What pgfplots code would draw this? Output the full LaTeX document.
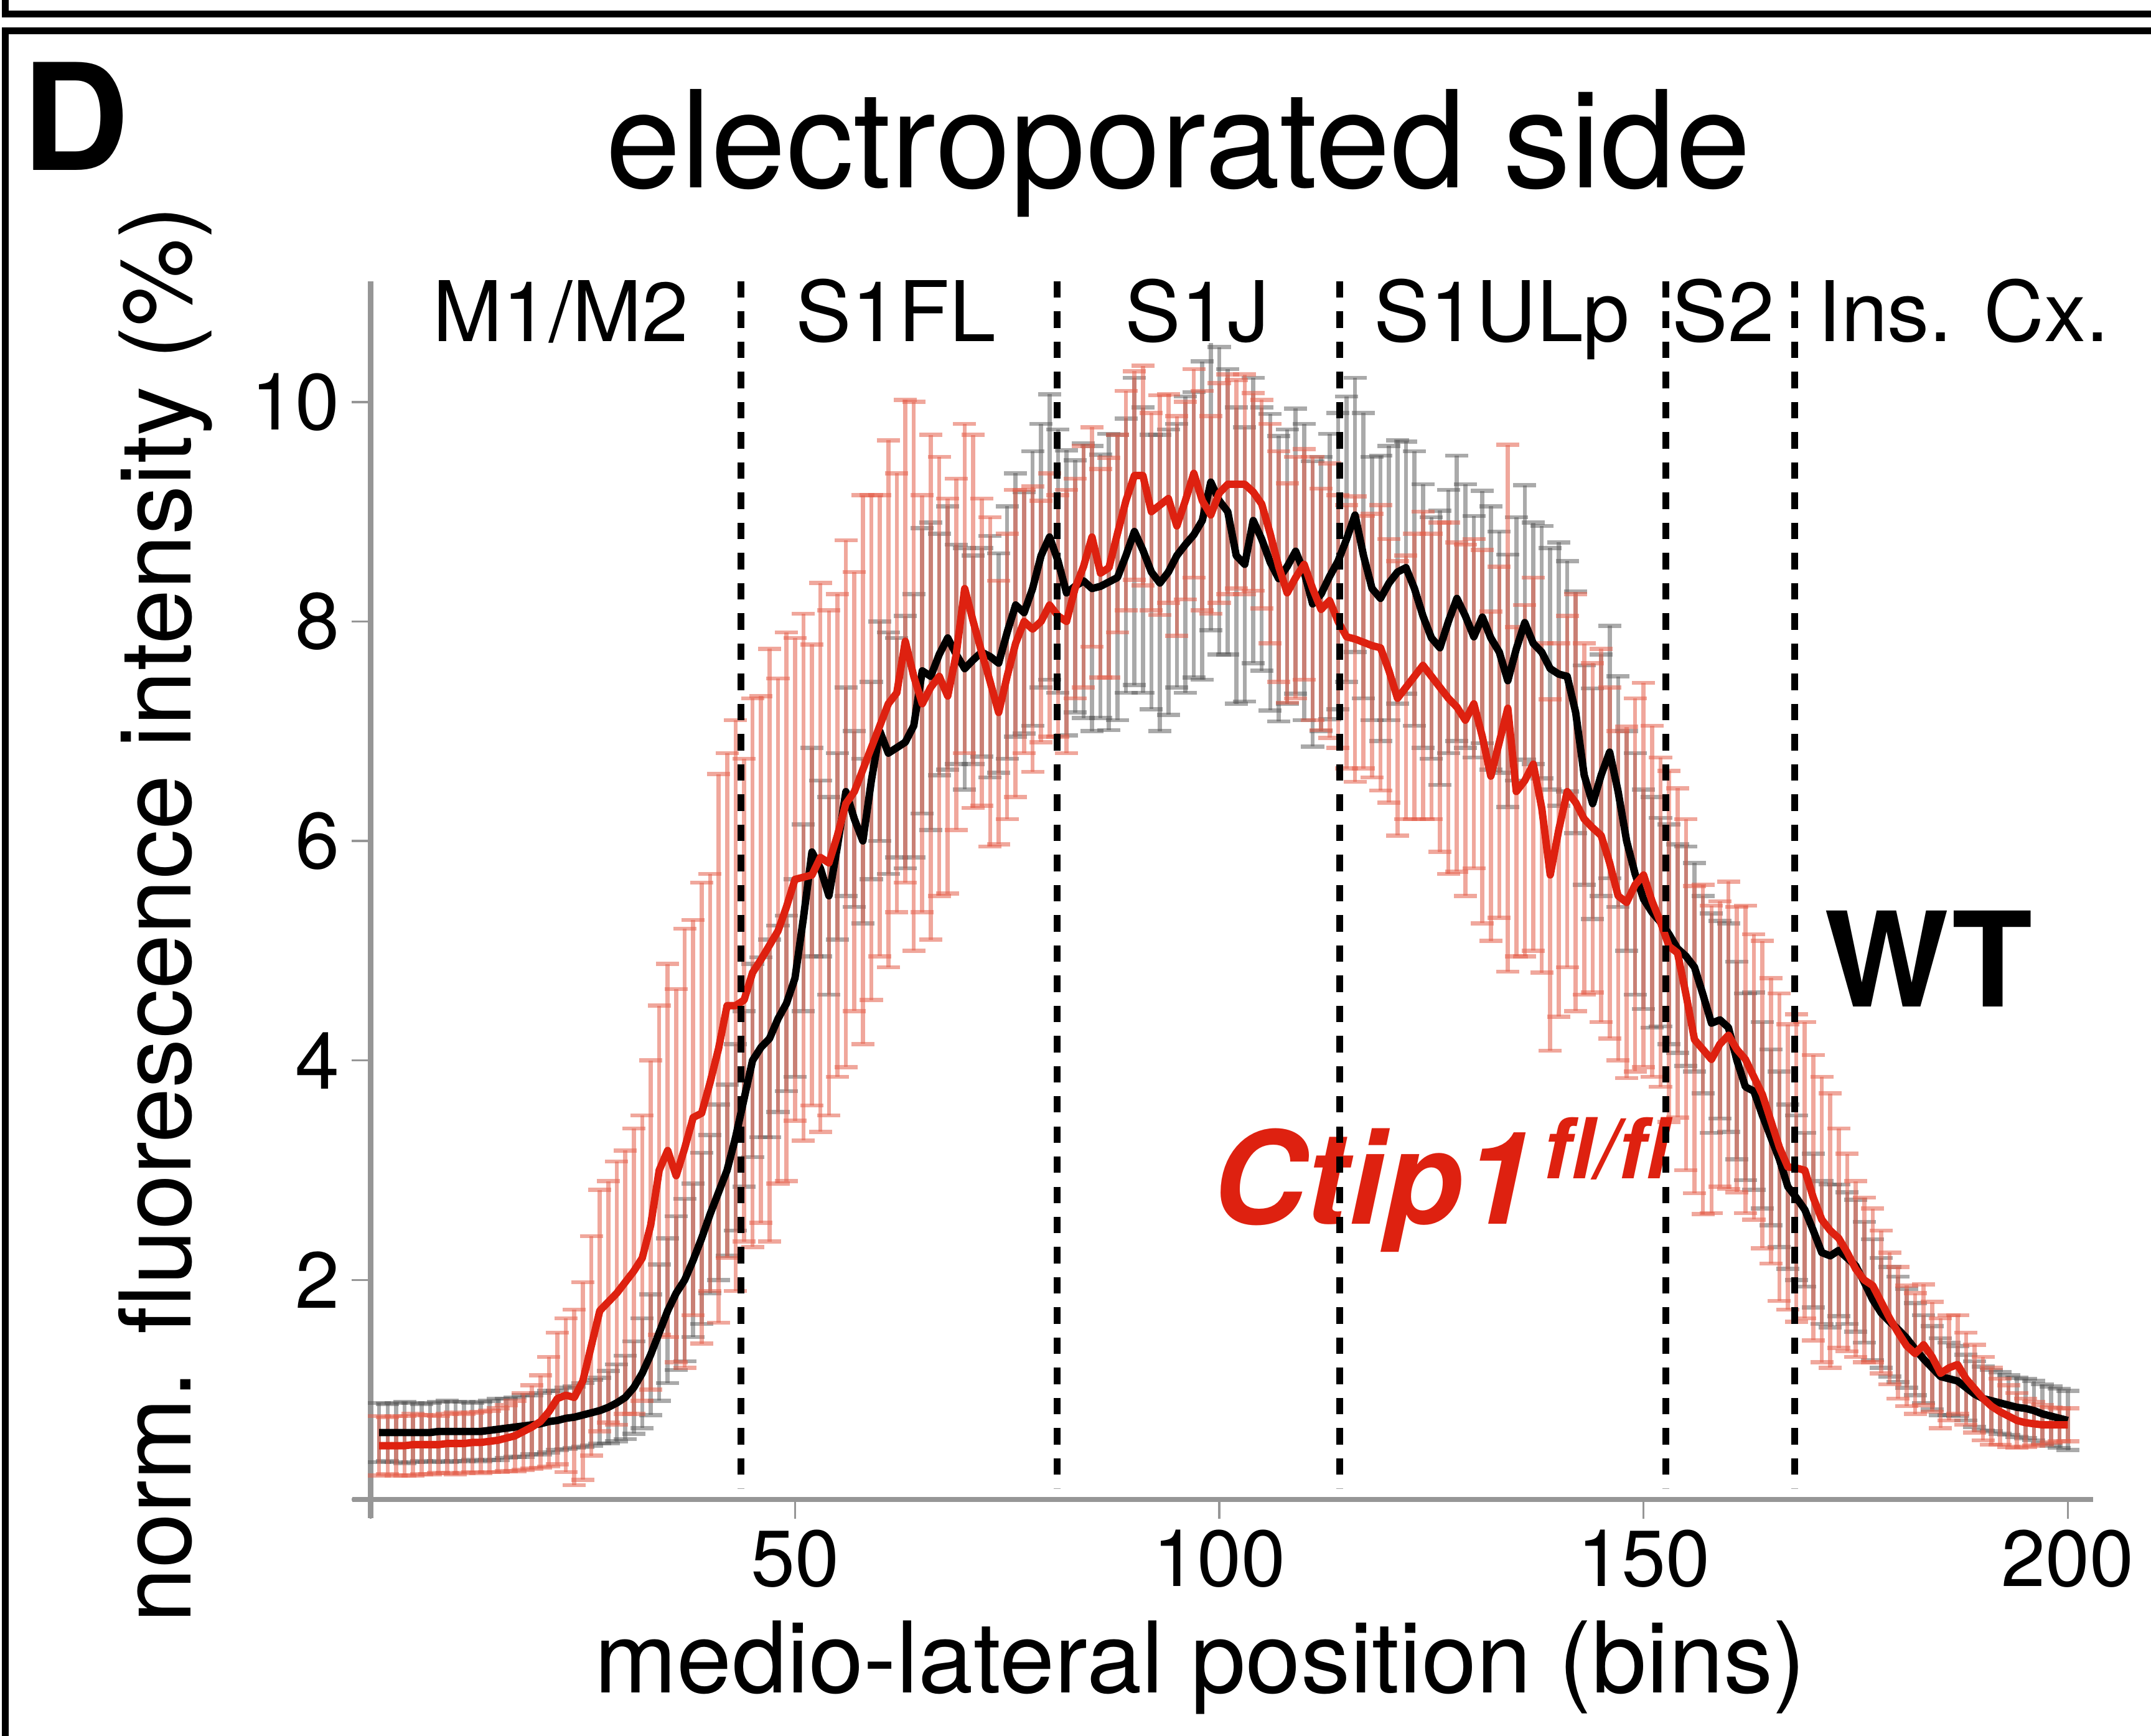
\documentclass[border=0pt]{standalone}
\usepackage{pgfplots}
\pgfplotsset{compat=1.18}
\usepackage{pgfplotstable}
\usepackage{fontspec}
\setmainfont{TeX Gyre Heros}
\definecolor{ctred}{RGB}{222,33,16}
\definecolor{errred}{RGB}{228,95,75}
\definecolor{errgray}{RGB}{85,85,85}
\definecolor{axgray}{RGB}{150,150,150}

\pgfplotstableread[row sep=\\]{
x y e\\
1 0.61 0.27\\ 2 0.61 0.26\\ 3 0.61 0.27\\ 4 0.61 0.28\\ 5 0.61 0.27\\ 6 0.61 0.26\\ 7 0.61 0.27\\ 8 0.62 0.27\\ 9 0.62 0.28\\ 10 0.62 0.27\\
11 0.62 0.27\\ 12 0.62 0.26\\ 13 0.62 0.27\\ 14 0.63 0.27\\ 15 0.64 0.28\\ 16 0.65 0.27\\ 17 0.66 0.27\\ 18 0.67 0.28\\ 19 0.68 0.27\\ 20 0.69 0.28\\
21 0.71 0.28\\ 22 0.72 0.27\\ 23 0.74 0.28\\ 24 0.75 0.28\\ 25 0.77 0.29\\ 26 0.79 0.30\\ 27 0.81 0.30\\ 28 0.84 0.33\\ 29 0.88 0.35\\ 30 0.93 0.38\\
31 1.02 0.42\\ 32 1.15 0.50\\ 33 1.32 0.55\\ 34 1.52 0.62\\ 35 1.72 0.66\\ 36 1.88 0.70\\ 37 2.00 0.74\\ 38 2.18 0.70\\ 39 2.38 0.78\\ 40 2.60 0.72\\
41 2.80 0.80\\ 42 3.00 0.78\\ 43 3.30 0.85\\ 44 3.65 0.80\\ 45 4.00 0.88\\ 46 4.12 0.82\\ 47 4.20 0.90\\ 48 4.38 0.85\\ 49 4.52 0.80\\ 50 4.75 0.90\\
51 5.30 0.85\\ 52 5.90 0.95\\ 53 5.75 0.80\\ 54 5.50 0.90\\ 55 5.95 0.85\\ 56 6.45 0.95\\ 57 6.20 0.80\\ 58 6.00 0.75\\ 59 6.55 0.90\\ 60 7.00 1.00\\
61 6.80 1.10\\ 62 6.85 1.00\\ 63 6.90 1.15\\ 64 7.05 1.20\\ 65 7.55 1.30\\ 66 7.50 1.40\\ 67 7.70 1.10\\ 68 7.85 1.20\\ 69 7.70 1.00\\ 70 7.57 1.10\\
71 7.65 0.95\\ 72 7.72 0.95\\ 73 7.68 1.10\\ 74 7.62 1.00\\ 75 7.90 1.15\\ 76 8.15 1.20\\ 77 8.08 1.10\\ 78 8.30 1.25\\ 79 8.60 1.20\\ 80 8.77 1.30\\
81 8.55 1.20\\ 82 8.26 1.30\\ 83 8.32 1.15\\ 84 8.37 1.25\\ 85 8.30 1.30\\ 86 8.32 1.20\\ 87 8.36 1.35\\ 88 8.40 1.30\\ 89 8.60 1.25\\ 90 8.82 1.40\\
91 8.65 1.30\\ 92 8.45 1.25\\ 93 8.35 1.35\\ 94 8.45 1.30\\ 95 8.60 1.20\\ 96 8.70 1.35\\ 97 8.79 1.30\\ 98 8.92 1.45\\ 99 9.27 1.35\\ 100 9.10 1.40\\
101 9.00 1.30\\ 102 8.60 1.35\\ 103 8.52 1.25\\ 104 8.92 1.30\\ 105 8.75 1.20\\ 106 8.54 1.35\\ 107 8.39 1.30\\ 108 8.50 1.25\\ 109 8.64 1.30\\ 110 8.45 1.35\\
111 8.16 1.30\\ 112 8.25 1.25\\ 113 8.41 1.30\\ 114 8.55 1.35\\ 115 8.75 1.30\\ 116 8.97 1.25\\ 117 8.60 1.30\\ 118 8.30 1.20\\ 119 8.21 1.30\\ 120 8.35 1.25\\
121 8.45 1.20\\ 122 8.49 1.15\\ 123 8.30 1.25\\ 124 8.05 1.20\\ 125 7.85 1.10\\ 126 7.76 1.25\\ 127 8.00 1.20\\ 128 8.21 1.30\\ 129 8.05 1.20\\ 130 7.86 1.10\\
131 8.04 1.15\\ 132 7.85 1.20\\ 133 7.72 1.10\\ 134 7.46 1.15\\ 135 7.75 1.20\\ 136 7.99 1.25\\ 137 7.80 1.10\\ 138 7.72 1.15\\ 139 7.57 1.10\\ 140 7.52 1.20\\
141 7.50 1.05\\ 142 7.17 1.10\\ 143 6.60 1.00\\ 144 6.34 1.05\\ 145 6.60 1.10\\ 146 6.81 1.15\\ 147 6.45 1.05\\ 148 6.00 1.00\\ 149 5.70 1.10\\ 150 5.47 1.00\\
151 5.35 1.05\\ 152 5.26 0.95\\ 153 5.15 1.00\\ 154 5.02 0.95\\ 155 4.95 1.00\\ 156 4.85 0.95\\ 157 4.60 0.90\\ 158 4.34 1.00\\ 159 4.37 0.90\\ 160 4.30 0.95\\
161 4.00 0.90\\ 162 3.76 0.85\\ 163 3.72 0.90\\ 164 3.50 0.85\\ 165 3.30 0.80\\ 166 3.10 0.80\\ 167 2.85 0.75\\ 168 2.75 0.75\\ 169 2.64 0.70\\ 170 2.45 0.70\\
171 2.25 0.65\\ 172 2.22 0.65\\ 173 2.27 0.60\\ 174 2.20 0.60\\ 175 2.13 0.60\\ 176 1.98 0.55\\ 177 1.82 0.55\\ 178 1.70 0.50\\ 179 1.62 0.50\\ 180 1.55 0.48\\
181 1.47 0.45\\ 182 1.37 0.42\\ 183 1.28 0.40\\ 184 1.20 0.38\\ 185 1.12 0.35\\ 186 1.10 0.33\\ 187 1.08 0.32\\ 188 1.02 0.30\\ 189 0.96 0.30\\ 190 0.92 0.29\\
191 0.90 0.28\\ 192 0.88 0.28\\ 193 0.86 0.27\\ 194 0.84 0.27\\ 195 0.83 0.27\\ 196 0.81 0.27\\ 197 0.78 0.27\\ 198 0.76 0.27\\ 199 0.74 0.27\\ 200 0.72 0.27\\
}\wt

\pgfplotstableread[row sep=\\]{
x y e\\
1 0.49 0.27\\ 2 0.49 0.26\\ 3 0.49 0.27\\ 4 0.49 0.27\\ 5 0.50 0.28\\ 6 0.50 0.27\\ 7 0.50 0.27\\ 8 0.50 0.26\\ 9 0.51 0.27\\ 10 0.51 0.28\\
11 0.51 0.27\\ 12 0.52 0.27\\ 13 0.52 0.28\\ 14 0.53 0.28\\ 15 0.54 0.29\\ 16 0.56 0.30\\ 17 0.58 0.32\\ 18 0.62 0.35\\ 19 0.66 0.38\\ 20 0.71 0.42\\
21 0.80 0.50\\ 22 0.92 0.60\\ 23 0.95 0.70\\ 24 0.93 0.80\\ 25 1.08 0.90\\ 26 1.40 1.00\\ 27 1.72 1.10\\ 28 1.80 1.10\\ 29 1.88 1.20\\ 30 1.98 1.20\\
31 2.08 1.30\\ 32 2.20 1.30\\ 33 2.50 1.50\\ 34 3.00 1.50\\ 35 3.18 1.70\\ 36 2.95 1.70\\ 37 3.20 2.00\\ 38 3.48 1.80\\ 39 3.52 2.10\\ 40 3.80 1.90\\
41 4.11 2.50\\ 42 4.50 2.30\\ 43 4.50 2.60\\ 44 4.55 2.20\\ 45 4.80 2.50\\ 46 4.92 2.40\\ 47 5.05 2.70\\ 48 5.18 2.30\\ 49 5.40 2.50\\ 50 5.65 2.20\\
51 5.67 2.40\\ 52 5.69 2.10\\ 53 5.85 2.50\\ 54 5.80 2.30\\ 55 6.05 2.20\\ 56 6.34 2.40\\ 57 6.45 2.00\\ 58 6.65 2.50\\ 59 6.85 2.30\\ 60 7.05 2.10\\
61 7.25 2.40\\ 62 7.35 2.00\\ 63 7.82 2.20\\ 64 7.50 2.50\\ 65 7.25 1.90\\ 66 7.40 2.30\\ 67 7.50 2.00\\ 68 7.32 1.80\\ 69 7.70 1.60\\ 70 8.30 1.50\\
71 8.00 1.70\\ 72 7.72 1.40\\ 73 7.45 1.50\\ 74 7.17 1.20\\ 75 7.50 1.30\\ 76 7.80 1.40\\ 77 8.00 1.20\\ 78 7.93 1.30\\ 79 8.00 1.10\\ 80 8.15 1.20\\
81 8.05 1.10\\ 82 8.00 1.20\\ 83 8.30 1.00\\ 84 8.50 1.10\\ 85 8.77 1.00\\ 86 8.44 0.95\\ 87 8.49 1.00\\ 88 8.80 0.90\\ 89 9.10 1.00\\ 90 9.33 0.95\\
91 9.33 1.00\\ 92 9.00 0.90\\ 93 9.06 1.00\\ 94 9.12 0.95\\ 95 8.87 1.00\\ 96 9.10 0.90\\ 97 9.35 0.95\\ 98 9.10 1.00\\ 99 8.97 0.90\\ 100 9.17 1.00\\
101 9.25 1.00\\ 102 9.25 0.95\\ 103 9.25 1.00\\ 104 9.18 0.90\\ 105 9.07 0.95\\ 106 8.80 1.00\\ 107 8.50 1.05\\ 108 8.26 1.00\\ 109 8.40 1.10\\ 110 8.52 1.05\\
111 8.30 1.20\\ 112 8.11 1.10\\ 113 8.19 1.25\\ 114 8.00 1.15\\ 115 7.86 1.20\\ 116 7.84 1.30\\ 117 7.81 1.15\\ 118 7.78 1.20\\ 119 7.76 1.30\\ 120 7.55 1.20\\
121 7.30 1.25\\ 122 7.40 1.20\\ 123 7.50 1.30\\ 124 7.60 1.40\\ 125 7.50 1.30\\ 126 7.40 1.50\\ 127 7.30 1.60\\ 128 7.22 1.50\\ 129 7.10 1.60\\ 130 7.25 1.50\\
131 6.95 1.70\\ 132 6.59 1.50\\ 133 6.90 1.60\\ 134 7.21 2.40\\ 135 6.45 1.50\\ 136 6.55 1.60\\ 137 6.70 1.70\\ 138 6.30 1.50\\ 139 5.69 1.60\\ 140 6.10 1.70\\
141 6.45 1.60\\ 142 6.35 1.90\\ 143 6.20 1.60\\ 144 6.12 1.50\\ 145 6.05 1.70\\ 146 5.80 1.60\\ 147 5.50 1.50\\ 148 5.44 1.60\\ 149 5.60 1.70\\ 150 5.69 1.75\\
151 5.45 1.60\\ 152 5.26 1.50\\ 153 5.04 1.60\\ 154 4.98 1.50\\ 155 4.60 1.60\\ 156 4.19 1.40\\ 157 4.10 1.50\\ 158 4.01 1.40\\ 159 4.15 1.30\\ 160 4.23 1.40\\
161 4.10 1.30\\ 162 4.01 1.40\\ 163 3.85 1.30\\ 164 3.69 1.40\\ 165 3.45 1.30\\ 166 3.21 1.40\\ 167 3.03 1.30\\ 168 3.02 1.40\\ 169 3.00 1.35\\ 170 2.75 1.30\\
171 2.55 1.30\\ 172 2.45 1.25\\ 173 2.38 1.00\\ 174 2.25 0.90\\ 175 2.10 0.80\\ 176 2.00 0.75\\ 177 1.95 0.70\\ 178 1.80 0.65\\ 179 1.65 0.60\\ 180 1.52 0.60\\
181 1.40 0.55\\ 182 1.33 0.55\\ 183 1.41 0.55\\ 184 1.30 0.50\\ 185 1.15 0.50\\ 186 1.20 0.48\\ 187 1.23 0.45\\ 188 1.10 0.42\\ 189 1.01 0.40\\ 190 0.92 0.38\\
191 0.85 0.35\\ 192 0.80 0.30\\ 193 0.76 0.28\\ 194 0.72 0.25\\ 195 0.70 0.22\\ 196 0.69 0.20\\ 197 0.68 0.18\\ 198 0.68 0.16\\ 199 0.68 0.15\\ 200 0.68 0.15\\
}\ko

\tikzset{vdash/.style={black, line width=1.25bp, dash pattern=on 3bp off 2.5bp},
  reglab/.style={anchor=base, inner sep=0pt, font=\fontsize{15.25bp}{18bp}\selectfont}}

\begin{document}
\begin{tikzpicture}
\useasboundingbox (0,0) rectangle (392bp,316.25bp);
% panel frames
\draw[line width=1.25bp] (0.94bp,316.5bp) -- (0.94bp,313.65bp) -- (393bp,313.65bp);
\draw[line width=1.25bp] (393bp,310.66bp) -- (0.94bp,310.66bp) -- (0.94bp,-1bp);
\begin{axis}[
  at={(67.55bp,43bp)}, anchor=south west,
  scale only axis, width=309.3bp, height=222bp,
  xmin=0, xmax=200, ymin=0, ymax=11.1,
  clip=false,
  axis x line*=bottom, axis y line*=left,
  axis line style={draw=none},
  xtick={0,50,100,150,200}, xticklabels={,50,100,150,200},
  ytick={0,2,4,6,8,10}, yticklabels={,2,4,6,8,10},
  tick align=outside, major tick length=3.5bp,
  every tick/.style={draw=axgray, line width=0.4bp},
  /pgf/number format/assume math mode=true,
  ticklabel style={font=\fontsize{14.5bp}{16bp}\selectfont, inner sep=0pt},
  xticklabel style={yshift=-1.8bp},
  yticklabel style={xshift=-2bp},
]
\draw[axgray, line width=1bp] (axis cs:-2.2,0) -- (axis cs:203,0);
\draw[axgray, line width=1bp] (axis cs:0,-0.17) -- (axis cs:0,11.1);

\addplot[draw=none, mark=none, forget plot,
  error bars/.cd, y dir=both, y explicit, error mark=|,
  error bar style={line width=0.75bp, draw=errgray, opacity=0.5},
  error mark options={line width=0.75bp, mark size=2.1bp, draw=errgray, opacity=0.5}]
  table[x=x, y=y, y error=e] {\wt};
\addplot[draw=none, mark=none, forget plot,
  error bars/.cd, y dir=both, y explicit, error mark=|,
  error bar style={line width=0.75bp, draw=errred, opacity=0.55},
  error mark options={line width=0.75bp, mark size=2.1bp, draw=errred, opacity=0.55}]
  table[x=x, y=y, y error=e] {\ko};
\addplot[black, line width=1.35bp, mark=none, line join=round] table[x=x, y=y] {\wt};
\addplot[ctred, line width=1.35bp, mark=none, line join=round] table[x=x, y=y] {\ko};

\node[anchor=base west, inner sep=0pt, text=ctred, font=\bfseries\itshape\fontsize{23.5bp}{28bp}\selectfont]
  at (axis cs:99.06,2.51) {Ctip1\kern1.5bp\raisebox{8.3bp}{\fontsize{15.3bp}{18bp}\selectfont fl/fl}};
\node[anchor=base west, inner sep=0pt, font=\bfseries\fontsize{24bp}{28bp}\selectfont]
  at (axis cs:171.2,4.49) {WT};

\draw[vdash] (axis cs:43.6,11.1) -- (axis cs:43.6,0.1);
\draw[vdash] (axis cs:80.9,11.1) -- (axis cs:80.9,0.1);
\draw[vdash] (axis cs:114.2,11.1) -- (axis cs:114.2,0.1);
\draw[vdash] (axis cs:152.6,11.1) -- (axis cs:152.6,0.1);
\draw[vdash] (axis cs:167.8,11.1) -- (axis cs:167.8,0.1);

\node[reglab, fill=white] at (axis cs:22.4,10.55) {M1/M2};
\node[reglab, fill=white] at (axis cs:61.9,10.55) {S1FL};
\node[reglab, fill=white] at (axis cs:97.4,10.55) {S1J};
\node[reglab, fill=white] at (axis cs:133.3,10.55) {S1ULp};
\node[reglab, fill=white] at (axis cs:159.4,10.55) {S2};
\node[reglab, fill=white] at (axis cs:187.7,10.55) {Ins. Cx.};
\end{axis}
\node[anchor=base west, inner sep=0pt, font=\bfseries\fontsize{27bp}{30bp}\selectfont] at (3.8bp,285.25bp) {D};
\node[anchor=base, inner sep=0pt, font=\fontsize{24.6bp}{28bp}\selectfont] at (214.75bp,282bp) {electroporated side};
\node[anchor=base, inner sep=0pt, font=\fontsize{18bp}{21bp}\selectfont] at (218.75bp,7.75bp) {medio-lateral position (bins)};
\node[anchor=base, inner sep=0pt, rotate=90, font=\fontsize{18bp}{21bp}\selectfont] at (34.75bp,149.6bp) {norm. fluorescence intensity (\%)};
\end{tikzpicture}
\end{document}
